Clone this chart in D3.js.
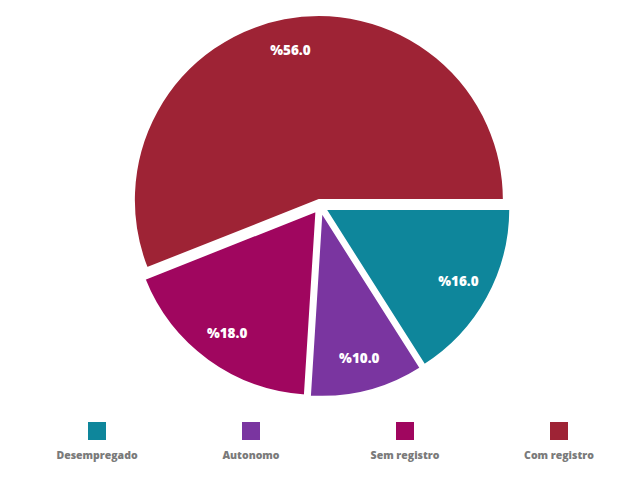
<!DOCTYPE html>
<html><head><meta charset="utf-8">
<script src="https://cdn.jsdelivr.net/npm/d3@7"></script>
<style>body{margin:0;background:#fff}</style>
</head><body>
<svg id="c" width="619" height="499"></svg>
<script>
const categories = ["Desempregado", "Autonomo", "Sem registro", "Com registro"];
const values = [16.0, 10.0, 18.0, 56.0];
const colors = ["#0e869b", "#7a35a0", "#a0065f", "#9e2335"];

const svg = d3.select("#c");
const cx = 320, cy = 206, r = 185, offset = 6;
const pie = d3.pie().sort(null).startAngle(Math.PI / 2).endAngle(Math.PI / 2 + 2 * Math.PI);
const arcs = pie(values);
const arc = d3.arc().innerRadius(0).outerRadius(r);
const labelArc = d3.arc().innerRadius(152).outerRadius(152);

const g = svg.append("g").attr("transform", `translate(${cx},${cy})`);
const slice = g.selectAll("g.s").data(arcs).enter().append("g")
  .attr("transform", d => {
    const a = (d.startAngle + d.endAngle) / 2;
    return `translate(${Math.sin(a) * offset},${-Math.cos(a) * offset})`;
  });
slice.append("path").attr("d", arc).attr("fill", (d, i) => colors[i])
  .attr("stroke", "#fff").attr("stroke-width", 2);
slice.append("text").attr("transform", d => `translate(${labelArc.centroid(d)})`)
  .attr("text-anchor", "middle").attr("dy", "0.3em")
  .attr("fill", "#fff").attr("font-family", "'Open Sans', sans-serif")
  .attr("font-weight", "800").attr("font-size", 13.5)
  .text(d => "%" + d.data.toFixed(1));

const lx = d3.scalePoint().domain(categories).range([97, 559]);
const lg = svg.selectAll("g.l").data(categories).enter().append("g")
  .attr("transform", d => `translate(${lx(d)},0)`);
lg.append("rect").attr("x", -9).attr("y", 422).attr("width", 18).attr("height", 18)
  .attr("fill", (d, i) => colors[i]);
lg.append("text").attr("y", 459).attr("text-anchor", "middle")
  .attr("fill", "#7a7a7a").attr("font-family", "'Open Sans', sans-serif")
  .attr("font-weight", "800").attr("font-size", 10.5).text(d => d);
</script>
</body></html>
